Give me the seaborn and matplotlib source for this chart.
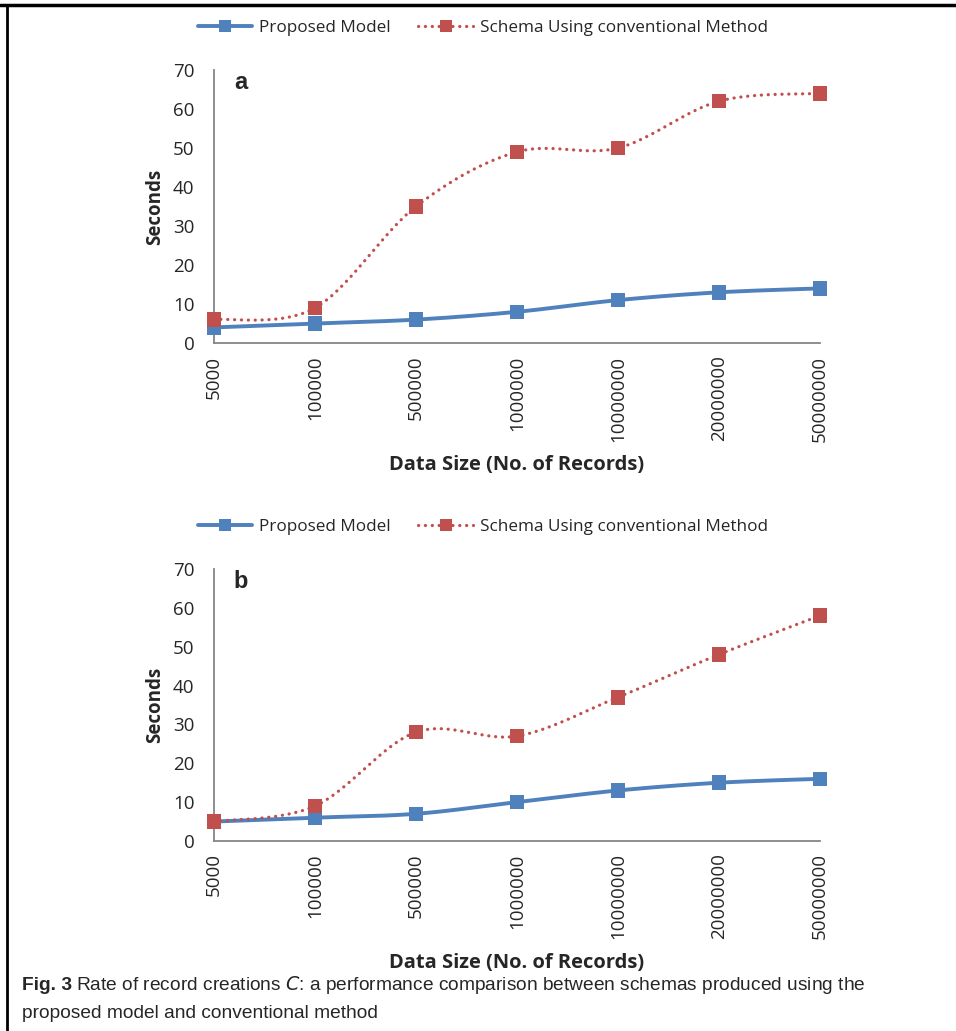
import numpy as np
import matplotlib.pyplot as plt
import pandas as pd
import seaborn as sns
from matplotlib.lines import Line2D

sizes = ["5000", "100000", "500000", "1000000", "10000000", "20000000", "50000000"]
proposed_a = [4, 5, 6, 8, 11, 13, 14]
conventional_a = [6, 9, 35, 49, 50, 62, 64]
proposed_b = [5, 6, 7, 10, 13, 15, 16]
conventional_b = [5, 9, 28, 27, 37, 48, 58]

BLUE = "#4F81BD"
RED = "#C0504D"
GRAY = "#868686"
DOTS = (0, (0.05, 2.1))


def smooth(xs, ys, n=30):
    # excel-like smoothed line: catmull-rom bezier between each pair of points
    p = np.column_stack([xs, ys]).astype(float)
    p = np.vstack([p[0], p, p[-1]])
    out = []
    t = np.linspace(0, 1, n)[:, None]
    for i in range(1, len(p) - 2):
        p0, p1, p2, p3 = p[i - 1], p[i], p[i + 1], p[i + 2]
        c1 = p1 + (p2 - p0) / 6
        c2 = p2 - (p3 - p1) / 6
        seg = (1 - t) ** 3 * p1 + 3 * (1 - t) ** 2 * t * c1 + 3 * (1 - t) * t ** 2 * c2 + t ** 3 * p2
        out.append(seg)
    out = np.vstack(out)
    return out[:, 0], out[:, 1]


def panel(ax, prop, conv, letter):
    df = pd.DataFrame({"x": list(range(len(sizes))) * 2,
                       "y": prop + conv,
                       "series": ["Proposed Model"] * len(sizes) + ["Schema Using conventional Method"] * len(sizes)})
    xs, ys = smooth(range(len(sizes)), prop)
    ax.plot(xs, ys, color=BLUE, lw=2.8, zorder=2, solid_capstyle="round")
    xs, ys = smooth(range(len(sizes)), conv)
    ax.plot(xs, ys, color=RED, lw=2.3, ls=DOTS, zorder=2, dash_capstyle="round")
    sns.scatterplot(data=df, x="x", y="y", hue="series", palette=[BLUE, RED], marker="s",
                    s=110, linewidth=0, legend=False, ax=ax, zorder=3, clip_on=False)
    ax.set_xlim(0, len(sizes) - 1)
    ax.set_ylim(0, 70)
    ax.set_yticks(range(0, 71, 10))
    ax.set_xticks(range(len(sizes)))
    ax.set_xticklabels(sizes, rotation=90, family="Open Sans", fontsize=13.5)
    ax.set_xticks(np.arange(0.5, len(sizes) - 1, 1), minor=True)
    ax.tick_params(axis="x", which="both", length=6, width=1.2, color=GRAY, direction="out", pad=3)
    ax.tick_params(axis="y", length=0, pad=14, labelsize=13.5)
    for lab in ax.get_yticklabels():
        lab.set_family("Open Sans")
    for s in ["top", "right"]:
        ax.spines[s].set_visible(False)
    for s in ["left", "bottom"]:
        ax.spines[s].set_color(GRAY)
        ax.spines[s].set_linewidth(1.3)
    ax.set_xlabel("Data Size (No. of Records)", fontsize=14.5, fontweight="bold", family="Open Sans", labelpad=10)
    ax.set_ylabel("Seconds", fontsize=13.5, fontweight="bold", family="Open Sans", labelpad=6)
    ax.text(0.033, 0.955, letter, transform=ax.transAxes, fontsize=17, fontweight="bold",
            family="Liberation Sans", va="center", ha="left")
    ax.grid(False)


sns.set_theme(style="white")
plt.rcParams["font.family"] = ["Open Sans", "DejaVu Sans"]

fig = plt.figure(figsize=(9.56, 10.31), dpi=100)
ax_a = fig.add_axes([0.2238, 0.6673, 0.6339, 0.2648])
ax_b = fig.add_axes([0.2238, 0.1843, 0.6339, 0.2638])
panel(ax_a, proposed_a, conventional_a, "a")
panel(ax_b, proposed_b, conventional_b, "b")

handles = [Line2D([], [], color=BLUE, lw=2.8, marker="s", markersize=9, markeredgewidth=0),
           Line2D([], [], color=RED, lw=2.3, ls=DOTS, dash_capstyle="round", marker="s",
                  markersize=9, markeredgewidth=0)]
labels = ["Proposed Model", "Schema Using conventional Method"]
for y in [1 - 28 / 1031, 1 - 527 / 1031]:
    fig.legend(handles, labels, loc="center", bbox_to_anchor=(0.505, y), ncol=2, frameon=False,
               fontsize=12.3, handlelength=3.2, columnspacing=1.6, handletextpad=0.4)

cap_y = 1 - 985 / 1031
cap = fig.text(0.023, cap_y, "Fig. 3", fontsize=13.8, va="center", ha="left",
               family="Liberation Sans", fontweight="bold")
fig.canvas.draw()
bb = cap.get_window_extent()
fig.text((bb.x1 + 4) / fig.bbox.width, cap_y,
         "Rate of record creations $\\it{C}$: a performance comparison between schemas produced using the",
         fontsize=13.8, va="center", ha="left", family="Liberation Sans")
fig.text(0.023, 1 - 1013 / 1031, "proposed model and conventional method", fontsize=13.8,
         va="center", ha="left", family="Liberation Sans")

# page frame: top and left rules
fig.add_artist(Line2D([0.0, 1.0], [1 - 5 / 1031] * 2, color="black", lw=2.5, transform=fig.transFigure))
fig.add_artist(Line2D([7 / 956] * 2, [0.0, 1 - 5 / 1031], color="black", lw=2.0, transform=fig.transFigure))

fig.savefig("out.png", dpi=100, facecolor="white")
